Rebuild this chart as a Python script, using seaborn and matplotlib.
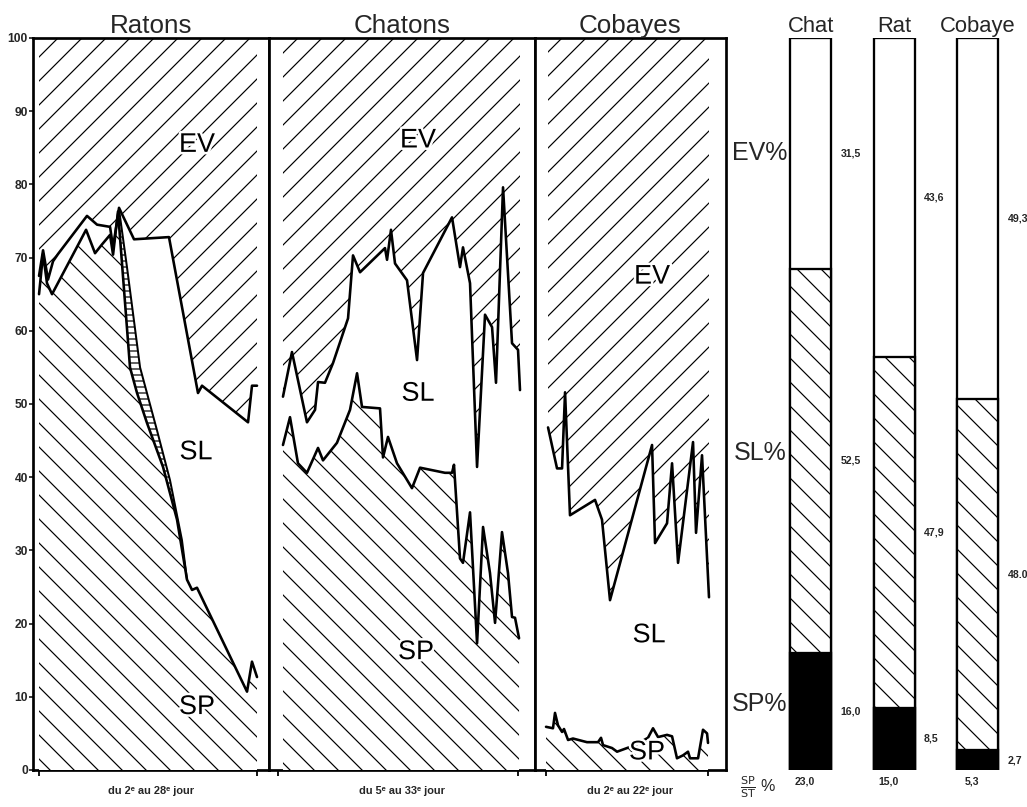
import numpy as np
import matplotlib
matplotlib.use("Agg")
import matplotlib.pyplot as plt
import matplotlib.patheffects as pe
from matplotlib import font_manager
from matplotlib.transforms import blended_transform_factory
import seaborn as sns

# ---------------------------------------------------------------- data
# Daily composition (% of total): SP = bottom boundary, SP+SL = upper boundary,
# EV = remainder up to 100.
ratons_sp_sl_day = [2.0, 2.48, 3.07, 3.67, 4.27, 7.72, 8.92, 10.47, 10.83, 11.54,
                    13.33, 17.50, 20.96, 21.44, 26.93, 27.40, 28.0]
ratons_sp_sl = [67.5, 71.0, 67.0, 69.5, 70.5, 75.7, 74.5, 74.2, 71.4, 76.8,
                72.5, 72.8, 51.5, 52.5, 47.5, 52.5, 52.5]
ratons_sp_day = [2.0, 2.48, 2.95, 3.55, 7.61, 8.68, 9.51, 10.47, 10.83, 11.42,
                 12.85, 13.69, 14.88, 16.79, 18.46, 19.65, 20.25, 20.84, 26.81, 27.40, 28.0]
ratons_sp = [65.0, 70.5, 66.5, 65.0, 73.8, 70.6, 71.8, 73.1, 70.4, 76.3,
             55.0, 51.5, 47.4, 41.4, 34.2, 26.0, 24.6, 24.9, 10.7, 14.8, 12.7]
# second SP boundary of the rats during the drop (horizontal-hatched band)
ratons_band_day = [11.54, 12.49, 14.05, 16.07, 17.62, 19.05, 19.65]
ratons_band = [76.6, 68.7, 55.0, 46.4, 39.6, 31.4, 26.0]

chatons_sp_sl_day = [5.58, 6.63, 8.38, 9.32, 9.67, 10.48, 11.42, 13.17, 13.75, 14.57,
                     17.48, 17.72, 18.18, 18.65, 20.05, 21.22, 21.92, 25.30, 26.23, 26.58,
                     27.40, 28.22, 29.15, 29.97, 30.43, 31.25, 32.30, 33.0, 33.23]
chatons_sp_sl = [51.0, 57.1, 47.5, 49.2, 53.0, 52.9, 55.6, 61.7, 70.3, 68.0,
                 71.3, 69.7, 73.8, 69.2, 66.9, 56.0, 67.9, 75.5, 68.7, 71.4,
                 66.5, 41.4, 62.2, 60.5, 52.9, 79.6, 58.3, 57.4, 51.9]
chatons_sp_day = [5.58, 6.40, 7.33, 8.38, 9.67, 10.25, 11.88, 13.40, 14.22, 14.80,
                  16.90, 17.25, 17.83, 18.88, 20.63, 21.57, 24.48, 25.30, 25.53, 26.23,
                  26.58, 27.40, 28.22, 28.92, 29.73, 30.32, 31.13, 31.83, 32.30, 32.65, 33.12]
chatons_sp = [44.4, 48.2, 41.9, 40.6, 44.0, 42.3, 44.7, 49.2, 54.2, 49.6,
              49.4, 42.7, 45.5, 41.9, 38.5, 41.3, 40.6, 40.6, 41.7, 28.9,
              28.3, 35.2, 17.3, 33.2, 26.9, 20.1, 32.5, 26.9, 20.9, 20.8, 18.0]

cobayes_sp_sl_day = [2.25, 3.36, 3.98, 4.35, 4.96, 8.05, 8.91, 9.90, 15.09, 15.46,
                     16.94, 17.56, 18.30, 20.15, 20.52, 21.26, 22.12]
cobayes_sp_sl = [46.8, 41.2, 41.2, 51.6, 34.8, 36.9, 34.2, 23.2, 44.4, 31.0,
                 33.7, 41.9, 28.3, 44.8, 32.4, 43.0, 23.6]
cobayes_sp_day = [2.0, 2.86, 3.11, 3.48, 3.98, 4.22, 4.72, 5.33, 7.06, 8.42,
                  8.79, 9.04, 10.15, 10.77, 12.99, 14.59, 15.21, 15.83, 16.94, 17.56,
                  18.17, 18.91, 19.53, 19.78, 20.77, 21.38, 21.88, 22.0]
cobayes_sp = [5.9, 5.7, 7.8, 6.1, 5.2, 5.6, 4.1, 4.3, 3.8, 3.8,
              4.4, 3.4, 3.0, 2.5, 3.4, 4.4, 5.7, 4.5, 4.8, 4.6,
              1.6, 2.0, 2.5, 1.6, 1.6, 5.5, 5.0, 3.7]

panel_titles = ["Ratons", "Chatons", "Cobayes"]
panel_days = [(2, 28), (5, 33), (2, 22)]
panel_xlabels = ["du 2ᵉ au 28ᵉ jour", "du 5ᵉ au 33ᵉ jour", "du 2ᵉ au 22ᵉ jour"]

# Mean composition per species
species = ["Chat", "Rat", "Cobaye"]
ev_pct = [31.5, 43.6, 49.3]
sl_pct = [52.5, 47.9, 48.0]
sp_pct = [16.0, 8.5, 2.7]
ev_labels = ["31,5", "43,6", "49,3"]
sl_labels = ["52,5", "47,9", "48.0"]
sp_labels = ["16,0", "8,5", "2,7"]
sp_st_labels = ["23,0", "15,0", "5,3"]

# ---------------------------------------------------------------- style
sns.set_theme(style="white")
names = {f.name for f in font_manager.fontManager.ttflist}
NARROW = "Liberation Sans Narrow" if "Liberation Sans Narrow" in names else None
plt.rcParams["font.family"] = ["Liberation Sans", "DejaVu Sans"]
plt.rcParams["hatch.linewidth"] = 1.2
plt.rcParams["hatch.color"] = "black"

DPI = 72
W, H = 1027, 807
fig = plt.figure(figsize=(W / DPI, H / DPI), dpi=DPI)

Y0, Y1 = 770, 38          # pixel rows of 0 % and 100 %
def rect(x0, x1):
    return [x0 / W, (H - Y0) / H, (x1 - x0) / W, (Y0 - Y1) / H]

panel_px = [(33, 269), (269, 535), (535, 726)]
panel_xlim = [(1.28, 29.43), (3.95, 34.98), (0.64, 24.22)]

label_font = dict(family=[NARROW, "DejaVu Sans"], fontsize=29) if NARROW else dict(fontsize=27)
halo = [pe.withStroke(linewidth=5, foreground="white")]
LW = 2.6

series = [
    (ratons_sp_sl_day, ratons_sp_sl, ratons_sp_day, ratons_sp),
    (chatons_sp_sl_day, chatons_sp_sl, chatons_sp_day, chatons_sp),
    (cobayes_sp_sl_day, cobayes_sp_sl, cobayes_sp_day, cobayes_sp),
]
text_pos = [
    {"EV": (20.84, 85.4), "SL": (20.72, 43.4), "SP": (20.84, 8.6)},
    {"EV": (21.33, 86.0), "SL": (21.33, 51.4), "SP": (21.10, 16.1)},
    {"EV": (15.09, 67.4), "SL": (14.72, 18.4), "SP": (14.47, 2.4)},
]

axes = []
for i, (px, xlim) in enumerate(zip(panel_px, panel_xlim)):
    ax = fig.add_axes(rect(*px))
    axes.append(ax)
    xu, yu, xl, yl = (np.asarray(a, float) for a in series[i])

    # EV: everything above the SP+SL boundary
    ax.fill_between(xu, yu, 100, facecolor="white", edgecolor="black",
                    hatch="/", linewidth=0, zorder=1)
    # SL: white area between the two boundaries
    ax.fill(np.concatenate([xu, xl[::-1]]), np.concatenate([yu, yl[::-1]]),
            facecolor="white", edgecolor="none", zorder=2)
    # SP: area under the lower boundary
    ax.fill_between(xl, 0, yl, facecolor="white", edgecolor="black",
                    hatch="\\", linewidth=0, zorder=3)

    if i == 0:
        bx = np.asarray(ratons_band_day, float)
        by = np.asarray(ratons_band, float)
        m = (xl >= bx[0] - 0.2) & (xl <= bx[-1] + 1e-6)
        ax.fill(np.concatenate([bx, xl[m][::-1]]), np.concatenate([by, yl[m][::-1]]),
                facecolor="white", edgecolor="black", hatch="--", linewidth=0, zorder=4)
        sns.lineplot(x=bx, y=by, ax=ax, color="black", linewidth=2.0,
                     estimator=None, zorder=6)

    sns.lineplot(x=xu, y=yu, ax=ax, color="black", linewidth=LW,
                 estimator=None, zorder=6)
    sns.lineplot(x=xl, y=yl, ax=ax, color="black", linewidth=LW,
                 estimator=None, zorder=6)

    for key, (tx, ty) in text_pos[i].items():
        ax.text(tx, ty, key, ha="center", va="center", color="black",
                path_effects=halo, zorder=8, **label_font)

    ax.set_xlim(*xlim)
    ax.set_ylim(0, 100)
    ax.set_xticks(list(panel_days[i]))
    ax.set_xticklabels([])
    ax.tick_params(axis="x", which="both", bottom=True, direction="out",
                   length=6, width=1.8, color="black")
    ax.set_xlabel(panel_xlabels[i], fontsize=11, fontweight="bold", labelpad=6)
    ax.set_title(panel_titles[i], fontsize=26, pad=3)
    if i == 0:
        ax.set_yticks(range(0, 101, 10))
        ax.set_yticklabels([str(v) for v in range(0, 101, 10)],
                           fontsize=12, fontweight="bold")
        ax.tick_params(axis="y", left=True, direction="out", length=4,
                       width=1.5, pad=1, color="black")
    else:
        ax.set_yticks([])
    ax.set_ylabel("")
    for s in ax.spines.values():
        s.set_visible(True)
        s.set_color("black")
        s.set_linewidth(2.7)

# ---------------------------------------------------------------- bars
bax = fig.add_axes(rect(769, 1019.5))
total = [e + s + p for e, s, p in zip(ev_pct, sl_pct, sp_pct)]
sp_sl = [s + p for s, p in zip(sl_pct, sp_pct)]
common = dict(ax=bax, width=0.49, saturation=1, errorbar=None,
              edgecolor="black", linewidth=2.3)
sns.barplot(x=species, y=total, color="white", **common)
sns.barplot(x=species, y=sp_sl, color="white", hatch="\\", **common)
sns.barplot(x=species, y=sp_pct, color="black", **common)
bax.set_xlim(-0.5, 2.5)
bax.set_ylim(0, 100)
bax.set_xticks([])
bax.set_yticks([])
bax.set_xlabel("")
bax.set_ylabel("")
for s in bax.spines.values():
    s.set_visible(False)

bar_title_font = dict(family=[NARROW, "DejaVu Sans"], fontsize=24) if NARROW else dict(fontsize=22)
tb = blended_transform_factory(bax.transData, bax.transAxes)
val_font = dict(fontsize=10.5, fontweight="bold")
for i, name in enumerate(species):
    bax.text(i, 1.008, name, transform=tb, ha="center", va="baseline", **bar_title_font)
    xr = i + 0.245 + 0.11
    bax.text(xr, 100 - ev_pct[i] / 2, ev_labels[i], ha="left", va="center", **val_font)
    bax.text(xr, sp_pct[i] + sl_pct[i] / 2, sl_labels[i], ha="left", va="center", **val_font)
    bax.text(xr, sp_pct[i] / 2, sp_labels[i], ha="left", va="center", **val_font)
    bax.text(i - 0.07, -0.016, sp_st_labels[i], transform=tb, ha="center",
             va="center", **val_font)

# row labels on the left of the first bar
xl_lab = -0.245 - 0.04
bax.text(xl_lab, 100 - ev_pct[0] / 2, "EV%", ha="right", va="center", fontsize=25)
bax.text(xl_lab, sp_pct[0] + sl_pct[0] / 2 + 1, "SL%", ha="right", va="center", fontsize=25)
bax.text(xl_lab, sp_pct[0] / 2 + 1, "SP%", ha="right", va="center", fontsize=25)
bax.text(-0.63, -0.024, r"$\frac{\mathrm{SP}}{\mathrm{ST}}$ %", transform=tb,
         ha="center", va="center", fontsize=16)

fig.savefig("out.png", dpi=DPI, facecolor="white")
